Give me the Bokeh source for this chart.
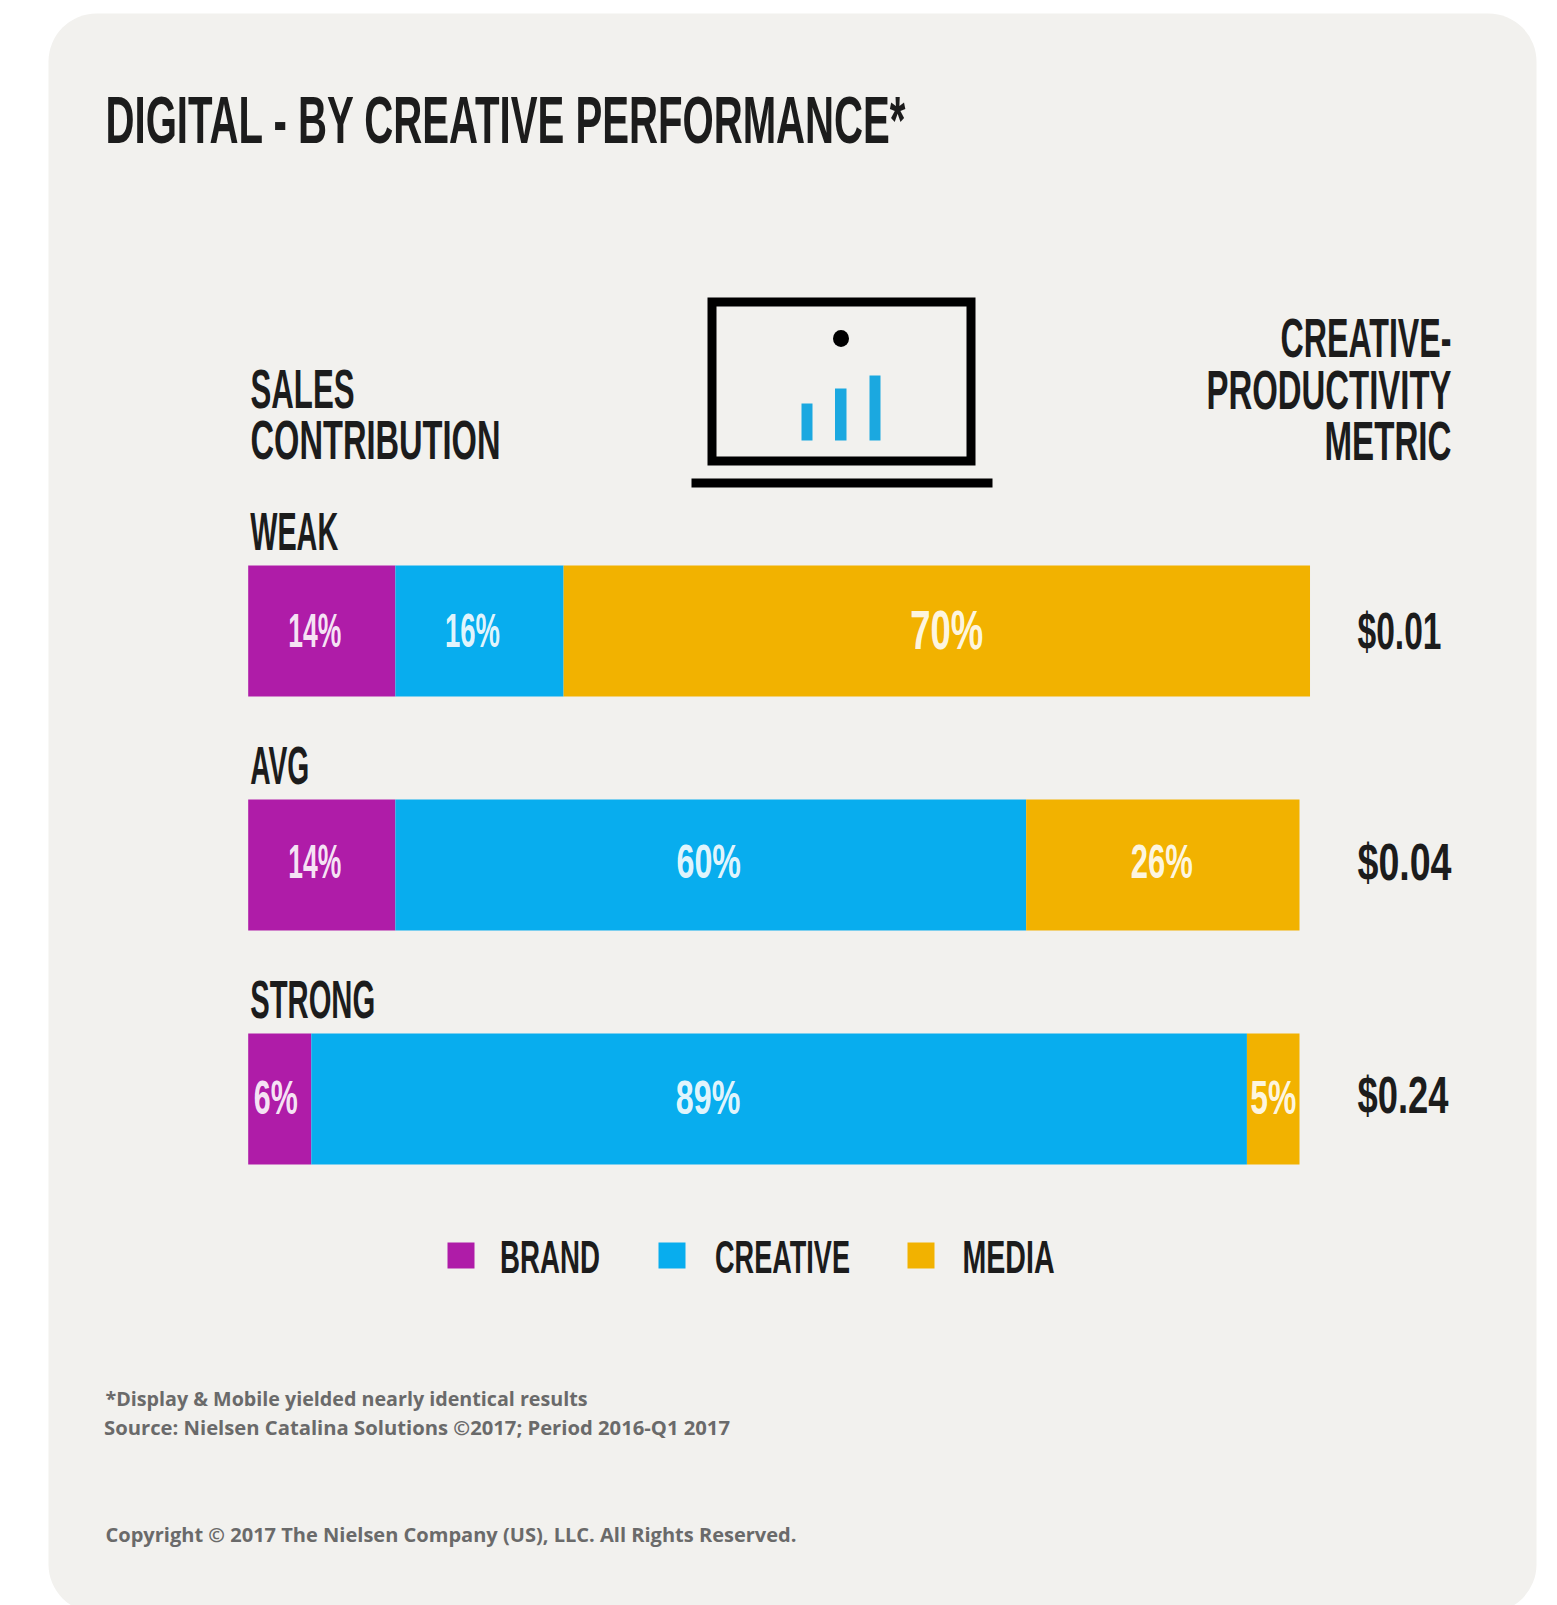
from bokeh.embed import file_html
from bokeh.io import curdoc
from bokeh.models import ColumnDataSource, CustomJS, Range1d
from bokeh.plotting import figure
from bokeh.resources import INLINE
from bokeh.core.properties import value

# ---- data -----------------------------------------------------------------
rows = ["WEAK", "AVG", "STRONG"]
series = ["BRAND", "CREATIVE", "MEDIA"]
brand = [14, 14, 6]
creative = [16, 60, 89]
media = [71, 26, 5]          # drawn length (the weak bar runs slightly long in the original)
brand_labels = ["14%", "14%", "6%"]
creative_labels = ["16%", "60%", "89%"]
media_labels = ["70%", "26%", "5%"]
metric_labels = ["$0.01", "$0.04", "$0.24"]
title = "DIGITAL - BY CREATIVE PERFORMANCE*"
left_head = ["SALES", "CONTRIBUTION"]
right_head = ["CREATIVE-", "PRODUCTIVITY", "METRIC"]
footnotes = ["*Display & Mobile yielded nearly identical results",
             "Source: Nielsen Catalina Solutions \u00a92017; Period 2016-Q1 2017"]
copyright_text = "Copyright \u00a9 2017 The Nielsen Company (US), LLC. All Rights Reserved."

# ---- styling / layout ------------------------------------------------------
PURPLE, BLUE, GOLD = "#AF1CA8", "#08ADEE", "#F2B200"
PANEL, INK, GREY = "#F2F1EE", "#1C1C1C", "#6A6A6A"
ICON_BLUE = "#1BA8E0"
NARROW = value("Liberation Sans")
W, H = 1557, 1605
BASE_SHIFT = 0.36      # alphabetic text lands this many ems below y when drawn

PX_PER_PCT = 10.513
BAR_LEFT = 247.7
ROW0, ROW_STEP = 630.6, 234.0
BAR_H = 131 / ROW_STEP

# The original uses a condensed display face; no such face is installed, so the
# sans text is squeezed horizontally to these widths (px) in the browser.
text_widths = {
    title: 800, "SALES": 104, "CONTRIBUTION": 250, "CREATIVE-": 171, "PRODUCTIVITY": 245, "METRIC": 127,
    "WEAK": 88, "AVG": 59, "STRONG": 125,
    "14%": 53, "16%": 55, "70%": 73, "60%": 64.5, "26%": 62, "89%": 64.5, "6%": 44, "5%": 46,
    "$0.01": 84, "$0.04": 94, "$0.24": 91,
    "BRAND": 100, "CREATIVE": 135, "MEDIA": 92,
    footnotes[0]: 482, footnotes[1]: 626, copyright_text: 691,
}

p = figure(width=W, height=H, toolbar_location=None, output_backend="svg",
           x_range=Range1d(0, W), y_range=Range1d(H, 0),
           background_fill_color="white", border_fill_color="white",
           min_border=0, outline_line_color=None)
p.xaxis.visible = False
p.yaxis.visible = False
p.grid.visible = False
p.extra_x_ranges["pct"] = Range1d(-BAR_LEFT / PX_PER_PCT, (W - BAR_LEFT) / PX_PER_PCT)
p.extra_y_ranges["row"] = Range1d((H - ROW0) / ROW_STEP, -ROW0 / ROW_STEP)

# panel
p.quad(left=[48], right=[1536], top=[13], bottom=[1612], fill_color=PANEL, line_color=None,
       border_radius=48)


def txt(x, y, s, size, color=INK, font=NARROW, style="bold"):
    p.text(x=[x], y=[y - BASE_SHIFT * size], text=[s], text_font=font, text_font_size=f"{size}px",
           text_color=color, text_align="left", text_baseline="alphabetic", text_font_style=style)


# title and headers
txt(105, 143, title, 67)
for s, y in zip(left_head, [408.5, 459.7]):
    txt(250, y, s, 55)
for s, y in zip(right_head, [357, 409, 460]):
    txt(1451 - text_widths[s], y, s, 55)

# stacked bars
row_idx = list(range(len(rows)))
starts = [0, 0, 0]
nudges = {"BRAND": [-7, -7, -4], "CREATIVE": [-7, -2, -71], "MEDIA": [10, -1, 0]}
lifts = {"BRAND": [1, 4, 2], "CREATIVE": [1, 4, 2], "MEDIA": [2, 4, 2]}
sizes = {"BRAND": ["48px"] * 3, "CREATIVE": ["48px"] * 3, "MEDIA": ["56px", "48px", "48px"]}
for name, vals, labels, color in zip(series, [brand, creative, media],
                                     [brand_labels, creative_labels, media_labels],
                                     [PURPLE, BLUE, GOLD]):
    ends = [s + v for s, v in zip(starts, vals)]
    src = ColumnDataSource(dict(y=row_idx, left=starts, right=ends, label=labels,
                                mid=[(s + e) / 2 for s, e in zip(starts, ends)],
                                dx=[n - text_widths[t] / 2 for n, t in zip(nudges[name], labels)],
                                dy=[-v for v in lifts[name]], size=sizes[name]))
    p.hbar(y="y", left="left", right="right", height=BAR_H, source=src, fill_color=color,
           line_color=None, x_range_name="pct", y_range_name="row")
    p.text(x="mid", y="y", text="label", x_offset="dx", y_offset="dy", source=src, text_color="#FFFFFF",
           text_alpha=0.9, text_font=NARROW, text_font_size="size", text_align="left", text_baseline="middle",
           text_font_style="bold", x_range_name="pct", y_range_name="row")
    starts = ends

# row names and metric values
rsrc = ColumnDataSource(dict(y=row_idx, name=rows, metric=metric_labels, x=[0, 0, 0], dy=[0, -3, -4]))
p.text(x="x", y="y", text="name", source=rsrc, x_offset=2, y_offset=-80.6 - BASE_SHIFT * 54, text_color=INK,
       text_font=NARROW, text_font_size="54px", text_font_style="bold", text_baseline="alphabetic",
       x_range_name="pct", y_range_name="row")
p.text(x=[1357] * 3, y=[y * ROW_STEP + ROW0 for y in row_idx], text=metric_labels, y_offset=rsrc.data["dy"],
       text_color=INK, text_font=NARROW, text_font_size="52px", text_baseline="middle", text_font_style="bold")

# laptop icon
p.quad(left=[711.5], right=[970.5], top=[301.5], bottom=[460.5], fill_color=None, line_color="#000000",
       line_width=9, line_join="miter")
p.quad(left=[691], right=[992], top=[478], bottom=[487], fill_color="#000000", line_color=None)
p.ellipse(x=[840.5], y=[338], width=[16], height=[17], fill_color="#000000", line_color=None)
p.quad(left=[801, 834.5, 869], right=[812, 846, 880], top=[403, 388, 375], bottom=[440, 440, 440],
       fill_color=ICON_BLUE, line_color=None)

# legend
for name, color, sx, tx in zip(series, [PURPLE, BLUE, GOLD], [447, 658, 907], [499.6, 714.5, 962]):
    p.quad(left=[sx], right=[sx + 27], top=[1242], bottom=[1268], fill_color=color, line_color=None)
    txt(tx, 1273, name, 47)

# footer
OPEN = value("Open Sans")
txt(105, 1405, footnotes[0], 20, color=GREY, font=OPEN)
txt(103.5, 1434, footnotes[1], 20, color=GREY, font=OPEN)
txt(105, 1541, copyright_text, 20, color=GREY, font=OPEN)

squeeze = CustomJS(args=dict(keys=list(text_widths), vals=list(text_widths.values())), code="""
    const widths = {};
    keys.forEach(function (k, i) { widths[k] = vals[i]; });
    function walk(root) {
        root.querySelectorAll('*').forEach(function (el) {
            if (el.shadowRoot) walk(el.shadowRoot);
            if (el.tagName.toLowerCase() === 'text' && widths[el.textContent] !== undefined
                    && !el.hasAttribute('textLength')) {
                el.setAttribute('textLength', widths[el.textContent]);
                el.setAttribute('lengthAdjust', 'spacingAndGlyphs');
            }
        });
    }
    walk(document);
    var n = 0;
    var t = setInterval(function () { walk(document); if (++n > 40) clearInterval(t); }, 50);
""")
doc = curdoc()
doc.add_root(p)
doc.js_on_event("document_ready", squeeze)

open("out.html", "w").write(file_html(p, INLINE))
